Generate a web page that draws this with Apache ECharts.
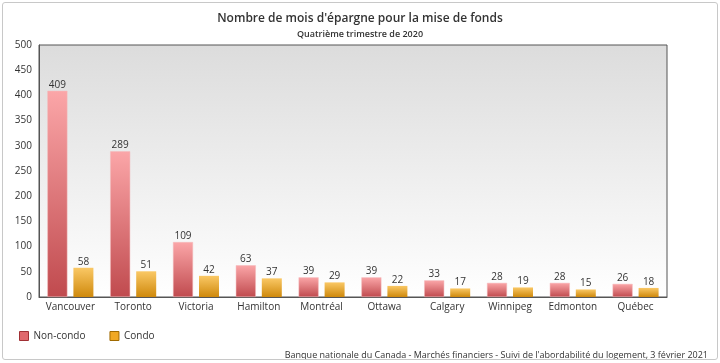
<!DOCTYPE html>
<html><head><meta charset="utf-8">
<script src="https://cdn.jsdelivr.net/npm/echarts@6/dist/echarts.min.js"></script>
<style>html,body{margin:0;padding:0;background:#fff}#c{width:720px;height:363px}
#frame{position:absolute;left:2px;top:2px;width:714px;height:356px;border:1px solid #c8c8c8;border-radius:3px;pointer-events:none}</style>
</head><body><div id="c"></div><div id="frame"></div>
<script>
const categories = ['Vancouver','Toronto','Victoria','Hamilton','Montréal','Ottawa','Calgary','Winnipeg','Edmonton','Québec'];
const nonCondo = [409,289,109,63,39,39,33,28,28,26];
const condo = [58,51,42,37,29,22,17,19,15,18];
const seriesNames = ['Non-condo','Condo'];
const yTicks = {min:0,max:500,interval:50};

const font = 'Open Sans';
const chart = echarts.init(document.getElementById('c'));
function grad(top,bottom){return new echarts.graphic.LinearGradient(0,0,0,1,[{offset:0,color:top},{offset:1,color:bottom}]);}
chart.setOption({
  animation:false,
  textStyle:{fontFamily:font},
  title:[
    {text:"Nombre de mois d'épargne pour la mise de fonds",left:'center',top:8,textStyle:{fontFamily:font,fontSize:12,fontWeight:600,color:'#333'}},
    {text:'Quatrième trimestre de 2020',left:'center',top:25,textStyle:{fontFamily:font,fontSize:9,fontWeight:600,color:'#333'}},
    {text:"Banque nationale du Canada - Marchés financiers - Suivi de l'abordabilité du logement, 3 février 2021",right:7,top:346,textStyle:{fontFamily:font,fontSize:9,fontWeight:'normal',color:'#333'}}
  ],
  legend:{left:14,top:326,itemWidth:9,itemHeight:9,itemGap:24,icon:'rect',
    textStyle:{fontFamily:font,fontSize:10,color:'#333'},
    data:[{name:seriesNames[0],itemStyle:{color:'#e0686c',borderColor:'#a03034',borderWidth:1}},{name:seriesNames[1],itemStyle:{color:'#f0a824',borderColor:'#a06a00',borderWidth:1}}]},
  grid:{left:39,right:53,top:45,bottom:66,show:true,borderColor:'#555',borderWidth:1,
    backgroundColor:grad('#dcdcdc','#ffffff')},
  xAxis:{type:'category',data:categories,axisTick:{show:false},
    axisLine:{lineStyle:{color:'#555'}},
    axisLabel:{fontFamily:font,fontSize:10,color:'#333',margin:5,interval:0}},
  yAxis:{type:'value',min:yTicks.min,max:yTicks.max,interval:yTicks.interval,splitLine:{show:false},
    axisLine:{show:true,lineStyle:{color:'#555'}},axisTick:{show:false},
    axisLabel:{fontFamily:font,fontSize:10,color:'#333',margin:7}},
  series:[
    {name:seriesNames[0],type:'bar',data:nonCondo,barWidth:20,barGap:'30%',
      itemStyle:{color:grad('#fba6a8','#c04a4e'),borderColor:'#f5b8ba',borderWidth:0.5},
      label:{show:true,position:'top',distance:1,fontFamily:font,fontSize:10,color:'#333'}},
    {name:seriesNames[1],type:'bar',data:condo,barWidth:20,
      itemStyle:{color:grad('#fac865','#cf890c')},
      label:{show:true,position:'top',distance:1,fontFamily:font,fontSize:10,color:'#333'}}
  ]
});
</script></body></html>
